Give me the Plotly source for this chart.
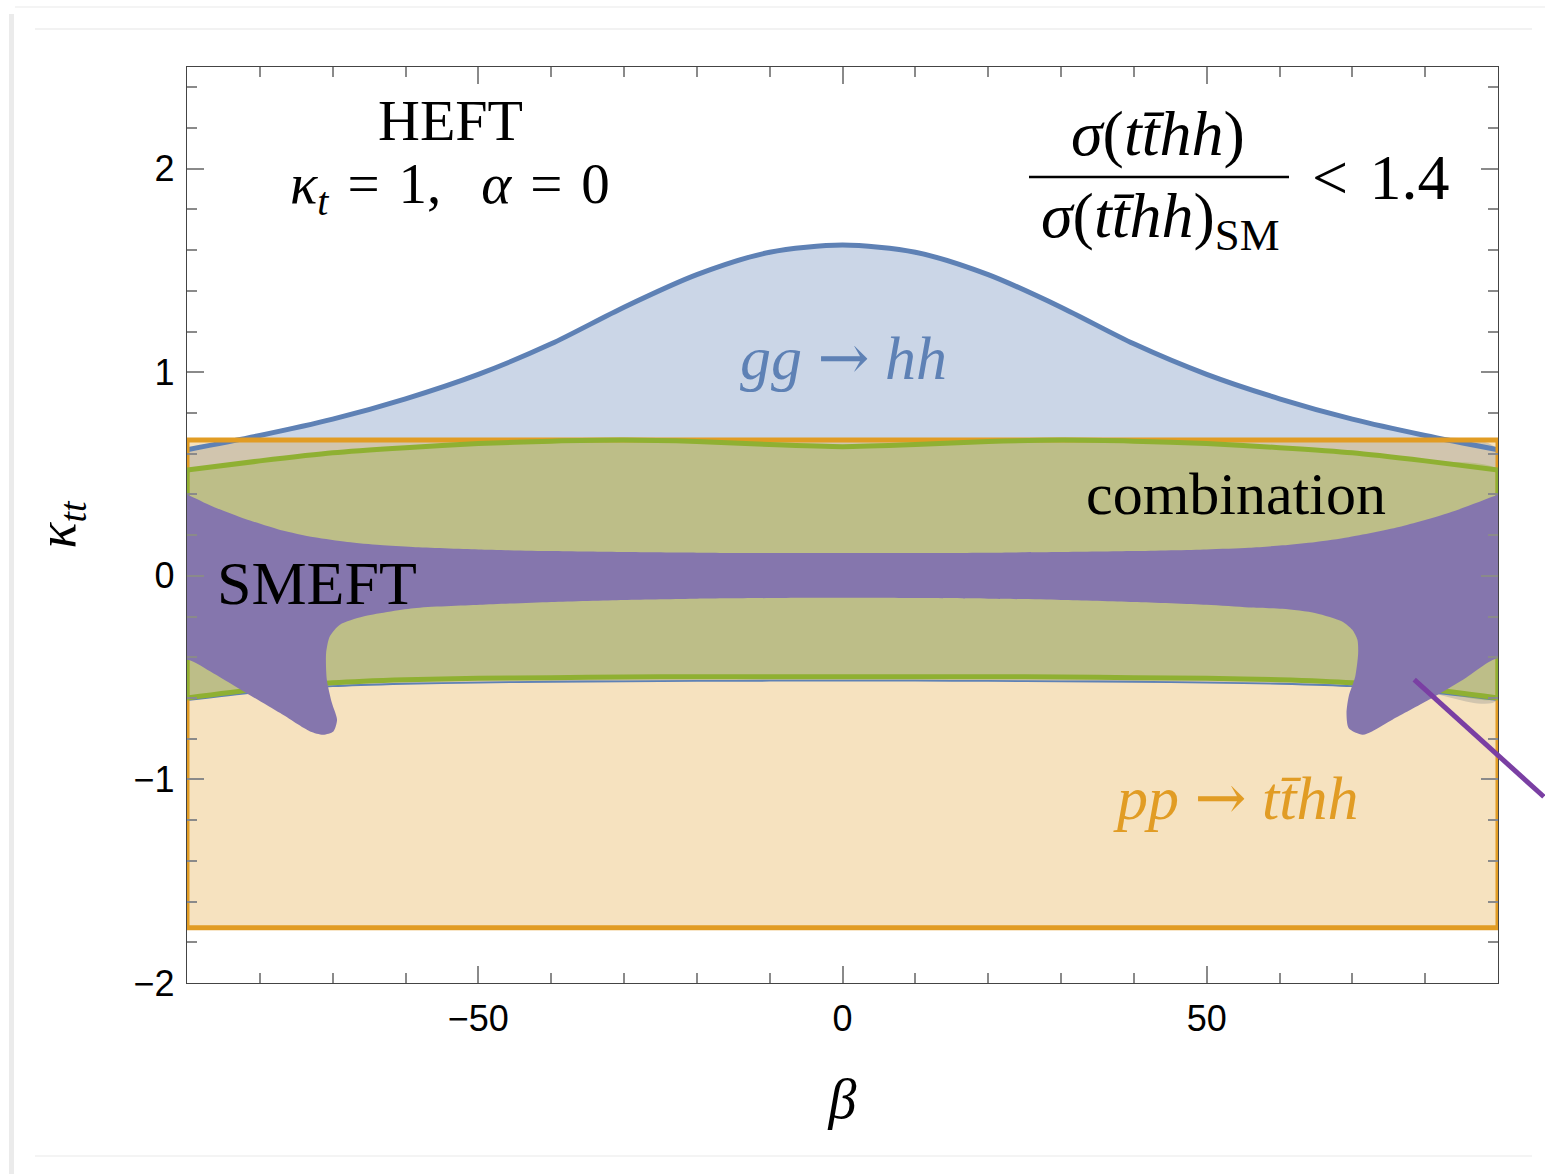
import plotly.graph_objects as go

# ---------------- data ----------------
beta_grid = [-90, -80, -70, -60, -50, -40, -30, -20, -10, 0, 10, 20, 30, 40, 50, 60, 70, 80, 90]

# gg -> hh allowed region
gghh_upper = [0.62, 0.69, 0.77, 0.87, 0.99, 1.14, 1.32, 1.48, 1.59, 1.625,
              1.59, 1.48, 1.32, 1.14, 0.99, 0.87, 0.77, 0.69, 0.62]
gghh_lower = [-0.61, -0.57, -0.542, -0.53, -0.524, -0.52, -0.518, -0.516, -0.515, -0.515,
              -0.515, -0.516, -0.518, -0.52, -0.524, -0.53, -0.542, -0.57, -0.61]

# combination region
comb_upper = [0.52, 0.565, 0.605, 0.63, 0.65, 0.662, 0.667, 0.66, 0.645, 0.635,
              0.645, 0.66, 0.667, 0.662, 0.65, 0.63, 0.605, 0.565, 0.52]
comb_lower = [-0.6, -0.555, -0.525, -0.51, -0.503, -0.5, -0.497, -0.495, -0.495, -0.495,
              -0.495, -0.495, -0.497, -0.5, -0.503, -0.51, -0.525, -0.555, -0.6]

# pp -> t tbar h h allowed band (independent of beta)
tthh_beta = [-90, 90]
tthh_kappa = [-1.728, 0.668]

# SMEFT region outline (closed, continues beyond the frame at beta = +-90)
smeft_beta = [-90, -86.4, -82, -77.2, -72.5, -68, -63.5, -59, -50, -40, -30, -20, -10, 0,
              10, 20, 30, 40, 50, 55.8, 60.4, 65, 69.5, 76.4, 83.3, 90,
              94, 94,
              90, 85.2, 80.5, 75.5, 72.7, 71.4, 69.5, 69.2, 69.5, 70.4, 70.8, 70.7, 70.0, 68.6,
              65.0, 60.4, 55.8, 50, 40, 30, 20, 10, 0, -10, -20, -30, -40, -49.8, -58.9,
              -65.8, -69, -70.4, -70.9, -70.8, -70.1, -69.4, -69.9, -71.3, -73.1, -77.2,
              -81.8, -86.4, -90,
              -94, -94, -90]
smeft_kappa = [0.40, 0.34, 0.28, 0.226, 0.19, 0.167, 0.152, 0.142, 0.13, 0.122, 0.117, 0.114, 0.112, 0.112,
               0.112, 0.114, 0.117, 0.122, 0.13, 0.138, 0.15, 0.167, 0.19, 0.24, 0.31, 0.40,
               0.46, -0.46,
               -0.404, -0.51, -0.609, -0.707, -0.764, -0.78, -0.748, -0.674, -0.592, -0.494, -0.38, -0.314, -0.265, -0.224,
               -0.183, -0.162, -0.155, -0.142, -0.128, -0.118, -0.112, -0.109, -0.108, -0.109, -0.112, -0.118, -0.128, -0.142, -0.159,
               -0.2, -0.24, -0.298, -0.38, -0.51, -0.625, -0.707, -0.764, -0.78, -0.764, -0.674,
               -0.576, -0.478, -0.412,
               -0.47, 0.46, 0.40]

x_ticks = [-50, 0, 50]
y_ticks = [-2, -1, 0, 1, 2]
x_range = [-90, 90]
y_range = [-2, 2.5]

# pointer line (leaves the frame to the right)
pointer_start = (78.5, -0.51)
pointer_end = (96.3, -1.085)

# ---------------- style ----------------
BLUE = "#5E81B5"
ORANGE = "#E19C24"
GREEN = "#8FB032"
PURPLE = "#8576AD"
SERIF = "Liberation Serif"
SANS = "Liberation Sans"
ARROW = "<span style='font-family:DejaVu Serif'>→</span>"
S3 = "\u2004"   # three-per-em space
S2 = "\u2002"   # en space
ST = "\u2009"   # thin space

W, H = 1545, 1174
L, R, T, B = 187, 1498, 67, 983


def px(x):
    return (x - L) / (R - L)


def py(y):
    return (B - y) / (B - T)


def d2p(b, k):
    return ((b - x_range[0]) / (x_range[1] - x_range[0]),
            (k - y_range[0]) / (y_range[1] - y_range[0]))


fig = go.Figure()
NOH = dict(hoverinfo="skip", showlegend=False)

# gg -> hh fill
fig.add_trace(go.Scatter(
    x=beta_grid + beta_grid[::-1], y=gghh_upper + gghh_lower[::-1],
    fill="toself", fillcolor="rgba(94,129,181,0.32)", mode="lines",
    line=dict(width=0, shape="spline", smoothing=0.8), **NOH))

# pp -> tthh rectangle fill
rx = [tthh_beta[0], tthh_beta[1], tthh_beta[1], tthh_beta[0], tthh_beta[0]]
ry = [tthh_kappa[0], tthh_kappa[0], tthh_kappa[1], tthh_kappa[1], tthh_kappa[0]]
fig.add_trace(go.Scatter(x=rx, y=ry, fill="toself", fillcolor="rgba(225,156,36,0.29)",
                         mode="lines", line=dict(width=0), **NOH))

# gg -> hh boundary lines
fig.add_trace(go.Scatter(x=beta_grid, y=gghh_upper, mode="lines",
                         line=dict(color=BLUE, width=5, shape="spline", smoothing=0.8), **NOH))
fig.add_trace(go.Scatter(x=beta_grid, y=gghh_lower, mode="lines",
                         line=dict(color=BLUE, width=1.8, shape="spline", smoothing=0.8), **NOH))

# pp -> tthh border
fig.add_trace(go.Scatter(x=rx, y=ry, mode="lines", line=dict(color=ORANGE, width=5), **NOH))

# combination fill + lines
fig.add_trace(go.Scatter(
    x=beta_grid + beta_grid[::-1], y=comb_upper + comb_lower[::-1],
    fill="toself", fillcolor="rgba(143,176,50,0.30)", mode="lines",
    line=dict(width=0, shape="spline", smoothing=0.6), **NOH))
fig.add_trace(go.Scatter(x=[beta_grid[0], beta_grid[0]], y=[comb_lower[0], comb_upper[0]], mode="lines",
                         line=dict(color=GREEN, width=5), **NOH))
fig.add_trace(go.Scatter(x=[beta_grid[-1], beta_grid[-1]], y=[comb_lower[-1], comb_upper[-1]], mode="lines",
                         line=dict(color=GREEN, width=5), **NOH))
fig.add_trace(go.Scatter(x=beta_grid, y=comb_upper, mode="lines",
                         line=dict(color=GREEN, width=5, shape="spline", smoothing=0.6), **NOH))
fig.add_trace(go.Scatter(x=beta_grid, y=comb_lower, mode="lines",
                         line=dict(color=GREEN, width=5, shape="spline", smoothing=0.6), **NOH))

# SMEFT
fig.add_trace(go.Scatter(x=smeft_beta, y=smeft_kappa, fill="toself", fillcolor=PURPLE,
                         mode="lines", line=dict(width=0, color=PURPLE, shape="spline", smoothing=0.7), **NOH))

shapes = []
p0 = d2p(*pointer_start)
p1 = d2p(*pointer_end)
shapes.append(dict(type="line", xref="paper", yref="paper", x0=p0[0], y0=p0[1], x1=p1[0], y1=p1[1],
                   line=dict(color="#7A3FA3", width=5)))
# fraction bar
shapes.append(dict(type="line", xref="paper", yref="paper", x0=px(1029), x1=px(1289), y0=py(177), y1=py(177),
                   line=dict(color="black", width=2.5)))
# screenshot window decoration
shapes.append(dict(type="rect", xref="paper", yref="paper", x0=px(9), x1=px(14), y0=py(1174), y1=py(14),
                   fillcolor="#EBEBEB", line=dict(width=0), layer="below"))
shapes.append(dict(type="line", xref="paper", yref="paper", x0=px(35), x1=px(1532), y0=py(29), y1=py(29),
                   line=dict(color="#EEEEEE", width=1.5), layer="below"))
shapes.append(dict(type="line", xref="paper", yref="paper", x0=px(35), x1=px(1532), y0=py(1156), y1=py(1156),
                   line=dict(color="#F0F0F0", width=1.5), layer="below"))
shapes.append(dict(type="line", xref="paper", yref="paper", x0=px(15), x1=px(1545), y0=py(7), y1=py(7),
                   line=dict(color="#F0F0F0", width=1.5), layer="below"))


def ann(text, x, y, size, color="black", **kw):
    return dict(text=text, x=px(x), y=py(y), xref="paper", yref="paper", showarrow=False,
                xanchor="center", yanchor="middle", font=dict(family=SERIF, size=size, color=color), **kw)


kappa_text = ("<i>κ</i><sub><i>t</i></sub>" + S3 + "=" + S3 + "1," + S2 + ST
              + "<i>α</i>" + S3 + "=" + S3 + "0")

annotations = [
    ann("HEFT", 450, 121, 58),
    ann(kappa_text, 450, 188, 57),
    ann("<i>σ</i>(<i>tt̄hh</i>)", 1158, 134, 64),
    ann("<i>σ</i>(<i>tt̄hh</i>)<sub>SM</sub>", 1160, 220, 64),
    ann("&lt;" + S3 + "1.4", 1380, 177, 64),
    ann("<i>gg</i> " + ARROW + " <i>hh</i>", 843, 357, 62, BLUE),
    ann("combination", 1236, 494, 60),
    ann("SMEFT", 317, 583, 62),
    ann("<i>pp</i> " + ARROW + " <i>tt̄hh</i>", 1235, 797, 62, ORANGE),
]

axis_common = dict(
    showline=True, linecolor="#444444", linewidth=1.4, mirror="ticks",
    ticks="inside", ticklen=17, tickwidth=1.5, tickcolor="#8A8A8A",
    showgrid=False, zeroline=False,
    tickfont=dict(family=SANS, size=36, color="black"),
)

fig.update_layout(
    width=W, height=H,
    margin=dict(l=L, r=W - R, t=T, b=H - B, autoexpand=False),
    paper_bgcolor="white", plot_bgcolor="white",
    xaxis=dict(range=x_range, tickvals=x_ticks, ticklabelstandoff=4,
               minor=dict(dtick=10, tick0=0, ticks="inside", ticklen=10, tickwidth=1.5, tickcolor="#8A8A8A"),
               title=dict(text="<i>β</i>", font=dict(family=SERIF, size=56, color="black"), standoff=40),
               **axis_common),
    yaxis=dict(range=y_range, tickvals=y_ticks, ticklabelstandoff=4,
               minor=dict(dtick=0.2, tick0=0, ticks="inside", ticklen=10, tickwidth=1.5, tickcolor="#8A8A8A"),
               title=dict(text="<i>κ</i><sub><i>tt</i></sub>", font=dict(family=SERIF, size=54, color="black"), standoff=40),
               **axis_common),
    shapes=shapes, annotations=annotations,
    hovermode=False,
)

fig.write_html("out.html", config=dict(displayModeBar=False),
               post_script="document.body.style.margin='0';document.body.style.overflow='hidden';")
